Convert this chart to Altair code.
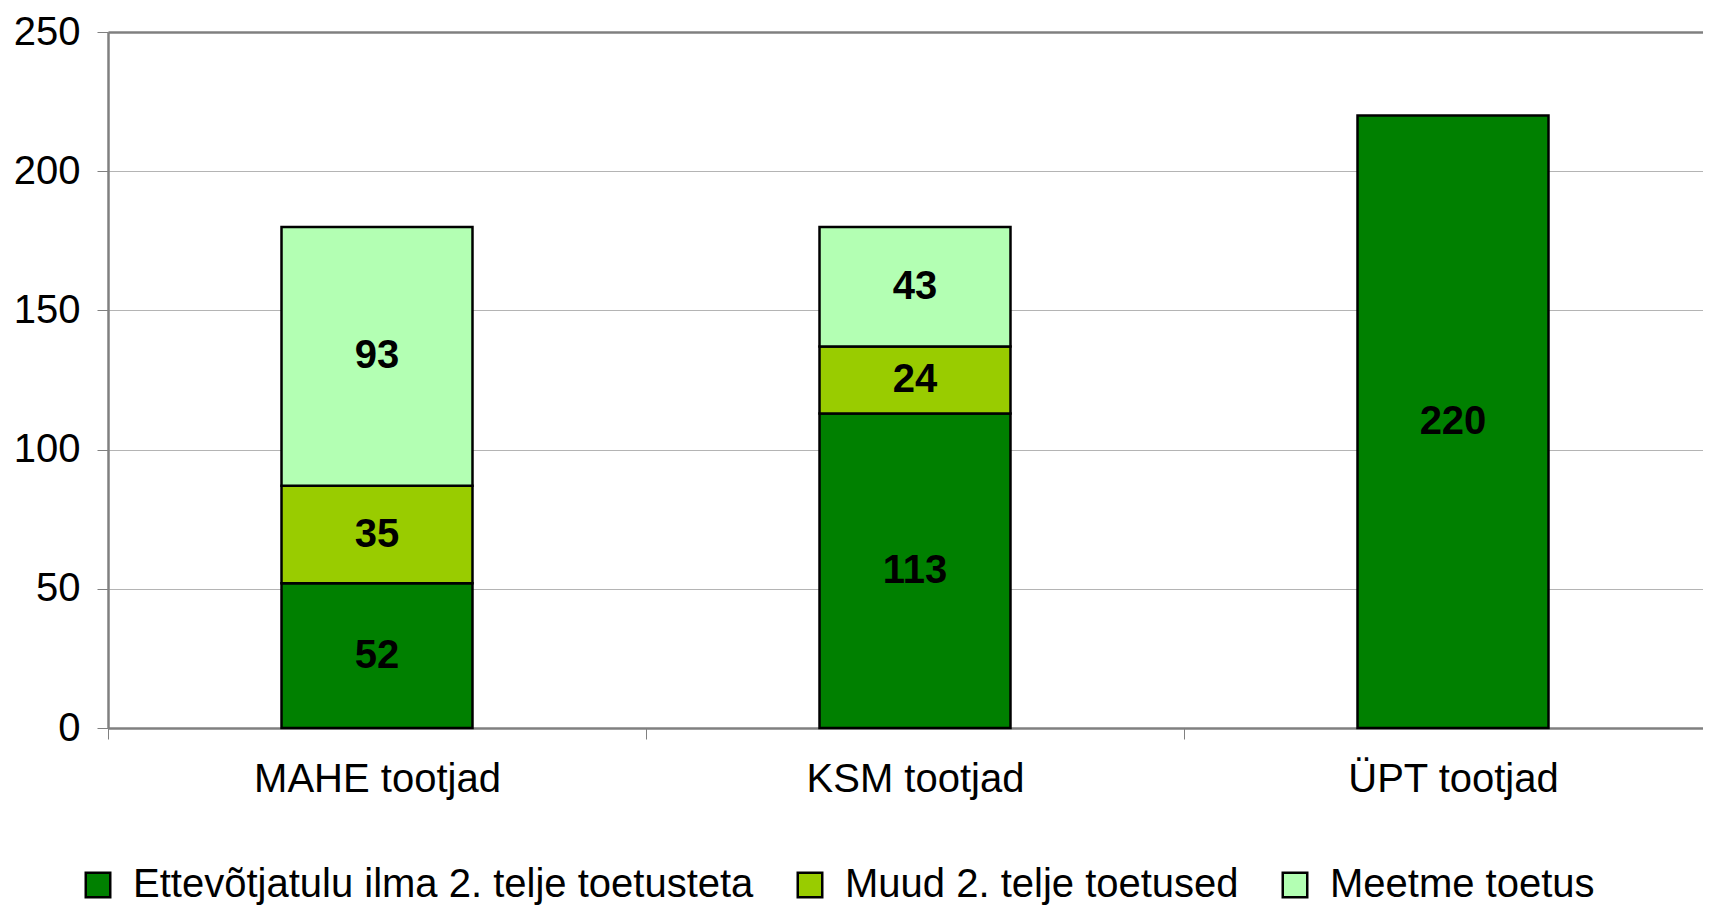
import altair as alt
import pandas as pd

categories = ["MAHE tootjad", "KSM tootjad", "ÜPT tootjad"]
series = ["Ettevõtjatulu ilma 2. telje toetusteta", "Muud 2. telje toetused", "Meetme toetus"]
colors = ["#008000", "#99CC00", "#B3FFB3"]

ettevotjatulu = [52, 113, 220]
muud_toetused = [35, 24, None]
meetme_toetus = [93, 43, None]

rows = []
for ci, cat in enumerate(categories):
    for si, vals in enumerate([ettevotjatulu, muud_toetused, meetme_toetus]):
        v = vals[ci]
        if v is None:
            continue
        rows.append({"category": cat, "series": series[si], "idx": si, "value": v})
df = pd.DataFrame(rows)

FONT = "Liberation Sans"

x_enc = alt.X("category:N", sort=categories, title=None,
              scale=alt.Scale(paddingInner=0, paddingOuter=0, range=[0, 1614]),
              axis=alt.Axis(labelAngle=0, tickBand="extent", labelFontSize=40, labelFont=FONT,
                            labelColor="black", labelPadding=20, labelLimit=0, tickSize=11,
                            tickColor="#808080", tickWidth=1, domainColor="#808080",
                            domainWidth=2.5, grid=False))
y_scale = alt.Scale(domain=[0, 250], nice=False)

bars = alt.Chart(df).mark_bar(stroke="black", strokeWidth=2.5, width=alt.RelativeBandSize(0.355)).encode(
    x=x_enc,
    y=alt.Y("value:Q", stack="zero", scale=y_scale, title=None,
            axis=alt.Axis(values=[0, 50, 100, 150, 200, 250], labelFontSize=40, labelFont=FONT,
                          labelColor="black", labelPadding=17, tickSize=11, tickColor="#808080",
                          domainColor="#808080", domainWidth=2.5,
                          gridColor=alt.ExprRef("datum.value === 250 ? '#808080' : '#b4b4b4'"),
                          gridWidth=alt.ExprRef("datum.value === 250 ? 2.5 : 1"))),
    color=alt.Color("series:N", scale=alt.Scale(domain=series, range=colors),
                    legend=alt.Legend(title=None, orient="none", legendX=-30, legendY=833,
                                      direction="horizontal", symbolType="square", symbolSize=600,
                                      symbolStrokeColor="black", symbolStrokeWidth=2.5,
                                      labelFontSize=40, labelFont=FONT, labelColor="black",
                                      labelOffset=15, columnPadding=36, padding=0,
                                      symbolOpacity=1, labelLimit=1000)),
    order=alt.Order("idx:Q"),
)

labels = alt.Chart(df).transform_stack(
    stack="value", groupby=["category"], as_=["y0", "y1"], sort=[alt.SortField("idx")]
).transform_calculate(
    mid="(datum.y0 + datum.y1) / 2"
).mark_text(fontSize=40, fontWeight="bold", font=FONT, color="black", baseline="middle").encode(
    x=alt.X("category:N", sort=categories),
    y=alt.Y("mid:Q", scale=y_scale),
    text=alt.Text("value:Q"),
)

chart = alt.layer(bars, labels).properties(
    width=1595, height=696,
    autosize=alt.AutoSizeParams(type="none"),
    padding={"left": 100, "top": 24, "right": 0, "bottom": 178},
).configure_view(stroke=None).configure(background="white")

chart.save("out.html", embed_options={"renderer": "svg", "actions": False})
